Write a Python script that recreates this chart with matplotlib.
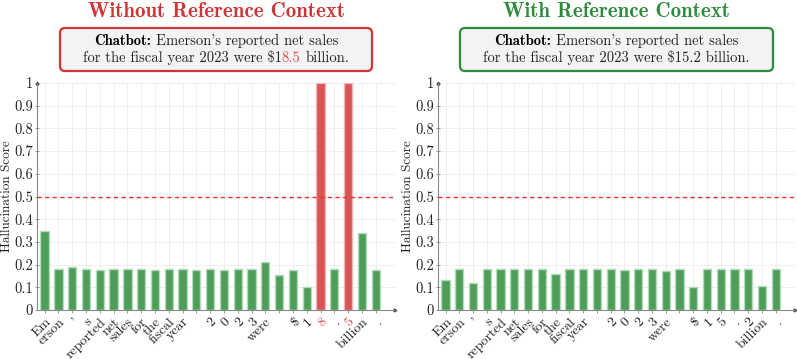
import matplotlib
matplotlib.use("Agg")
import matplotlib.pyplot as plt
import numpy as np
from matplotlib.patches import FancyBboxPatch
from matplotlib.transforms import IdentityTransform

plt.rcParams['font.family'] = 'cmr10'
plt.rcParams['mathtext.fontset'] = 'cm'
plt.rcParams['axes.unicode_minus'] = False

W, H = 797, 359

# tokens and scores
tokens_left = ["Em", "erson", "'", "s", "reported", "net", "sales", "for", "the", "fiscal", "year", "",
               "2", "0", "2", "3", "were", "", r"\$", "1", "8", ".", "5", "billion", "."]
scores_left = [0.35, 0.18, 0.19, 0.18, 0.178, 0.18, 0.18, 0.18, 0.175, 0.18, 0.18, 0.175,
               0.18, 0.178, 0.18, 0.18, 0.212, 0.155, 0.175, 0.103, 1.0, 0.18, 1.0, 0.34, 0.178]

tokens_right = ["Em", "erson", "'", "s", "reported", "net", "sales", "for", "the", "fiscal", "year", "",
                "2", "0", "2", "3", "were", "", r"\$", "1", "5", ".", "2", "billion", "."]
scores_right = [0.132, 0.18, 0.12, 0.18, 0.18, 0.18, 0.18, 0.18, 0.158, 0.18, 0.18, 0.18,
                0.18, 0.177, 0.18, 0.18, 0.17, 0.18, 0.103, 0.18, 0.18, 0.18, 0.18, 0.107, 0.18]

threshold = 0.5
yticks = [0, 0.1, 0.2, 0.3, 0.4, 0.5, 0.6, 0.7, 0.8, 0.9, 1]
ytick_labels = ['0', '0.1', '0.2', '0.3', '0.4', '0.5', '0.6', '0.7', '0.8', '0.9', '1']

red = '#d03434'
green = '#2e8b3c'
bar_green, edge_green = '#4e9e5a', '#b3dab9'
bar_red, edge_red = '#d95555', '#f2b3b3'

fig = plt.figure(figsize=(W / 100, H / 100), dpi=100)
renderer = fig.canvas.get_renderer()


def panel(rect, tokens, scores):
    ax = fig.add_axes(rect)
    idx = np.arange(len(scores))
    hot = [s > threshold for s in scores]
    fc = [bar_red if h else bar_green for h in hot]
    ec = [edge_red if h else edge_green for h in hot]
    ax.bar(idx, scores, 0.6, color=fc, edgecolor=ec, linewidth=1.0, zorder=3)
    ax.axhline(threshold, color='#f03030', linestyle=(0, (3, 2.5)), linewidth=1.0, zorder=4)
    ax.set_xlim(-0.55, 25.4)
    ax.set_ylim(0, 1)
    ax.set_yticks(yticks)
    ax.set_yticklabels(ytick_labels, fontsize=10.5, color='#222222')
    ax.set_xticks(idx)
    ax.set_xticklabels(tokens, rotation=45, ha='right', rotation_mode='anchor', fontsize=10, color='#222222')
    for lab, h in zip(ax.get_xticklabels(), hot):
        if h:
            lab.set_color('#e05050')
    ax.set_ylabel('Hallucination Score', fontsize=9.5, labelpad=1, color='#222222')
    ax.grid(True, color='#ededed', linewidth=0.6, zorder=0)
    ax.set_axisbelow(True)
    for s in ['top', 'right']:
        ax.spines[s].set_visible(False)
    for s in ['left', 'bottom']:
        ax.spines[s].set_color('#888888')
        ax.spines[s].set_linewidth(0.8)
    ax.tick_params(axis='y', direction='inout', length=3, width=0.6, color='#888888', pad=1.5)
    ax.tick_params(axis='x', direction='out', length=2, width=0.6, color='#888888', pad=2)
    # small arrow heads at the ends of the axes
    ax.plot(1, 0, '>', color='#444444', markersize=2, transform=ax.get_yaxis_transform(), clip_on=False)
    ax.plot(0, 1, '^', color='#444444', markersize=2, transform=ax.get_yaxis_transform(), clip_on=False)
    return ax


def line_of_pieces(cx, y, pieces, size):
    # pieces: (text, family, colour, space_before)
    sp = fig.text(0, 0, 'x x', family='cmr10', fontsize=size)
    sp2 = fig.text(0, 0, 'xx', family='cmr10', fontsize=size)
    space = (sp.get_window_extent(renderer).width - sp2.get_window_extent(renderer).width) / W
    sp.remove()
    sp2.remove()
    arts, widths = [], []
    for s, fam, col, gap in pieces:
        t = fig.text(0, y, s, family=fam, color=col, fontsize=size, ha='left', va='baseline')
        arts.append(t)
        widths.append(t.get_window_extent(renderer).width / W)
    total = sum(widths) + space * sum(1 for p in pieces if p[3])
    x = cx - total / 2
    for t, w, p in zip(arts, widths, pieces):
        if p[3]:
            x += space
        t.set_x(x)
        x += w


def header(cx_px, x0_px, x1_px, title, colour, line2):
    cx = cx_px / W
    fig.text(cx, (H - 17) / H, title, family='cmb10', fontsize=15, color=colour,
             ha='center', va='baseline')
    box = FancyBboxPatch((x0_px, H - 71), x1_px - x0_px, 43,
                         boxstyle='round,pad=0,rounding_size=5', transform=IdentityTransform(),
                         facecolor='#f3f3f3', edgecolor=colour, linewidth=1.6)
    fig.add_artist(box)
    line_of_pieces(cx, (H - 45) / H,
                   [('Chatbot:', 'cmb10', 'black', False),
                    ("Emerson's reported net sales", 'cmr10', '#222222', True)], 10.5)
    line_of_pieces(cx, (H - 62) / H, line2, 10.5)


panel([37 / W, 49 / H, 358 / W, 227 / H], tokens_left, scores_left)
panel([438 / W, 49 / H, 357 / W, 227 / H], tokens_right, scores_right)

header(216, 60, 372, 'Without Reference Context', red,
       [(r'for the fiscal year 2023 were \$1', 'cmr10', '#222222', False),
        ('8.5', 'cmr10', '#e05050', False),
        ('billion.', 'cmr10', '#222222', True)])
header(616.5, 460, 773, 'With Reference Context', green,
       [(r'for the fiscal year 2023 were \$15.2 billion.', 'cmr10', '#222222', False)])

fig.savefig('out.png', dpi=100)
